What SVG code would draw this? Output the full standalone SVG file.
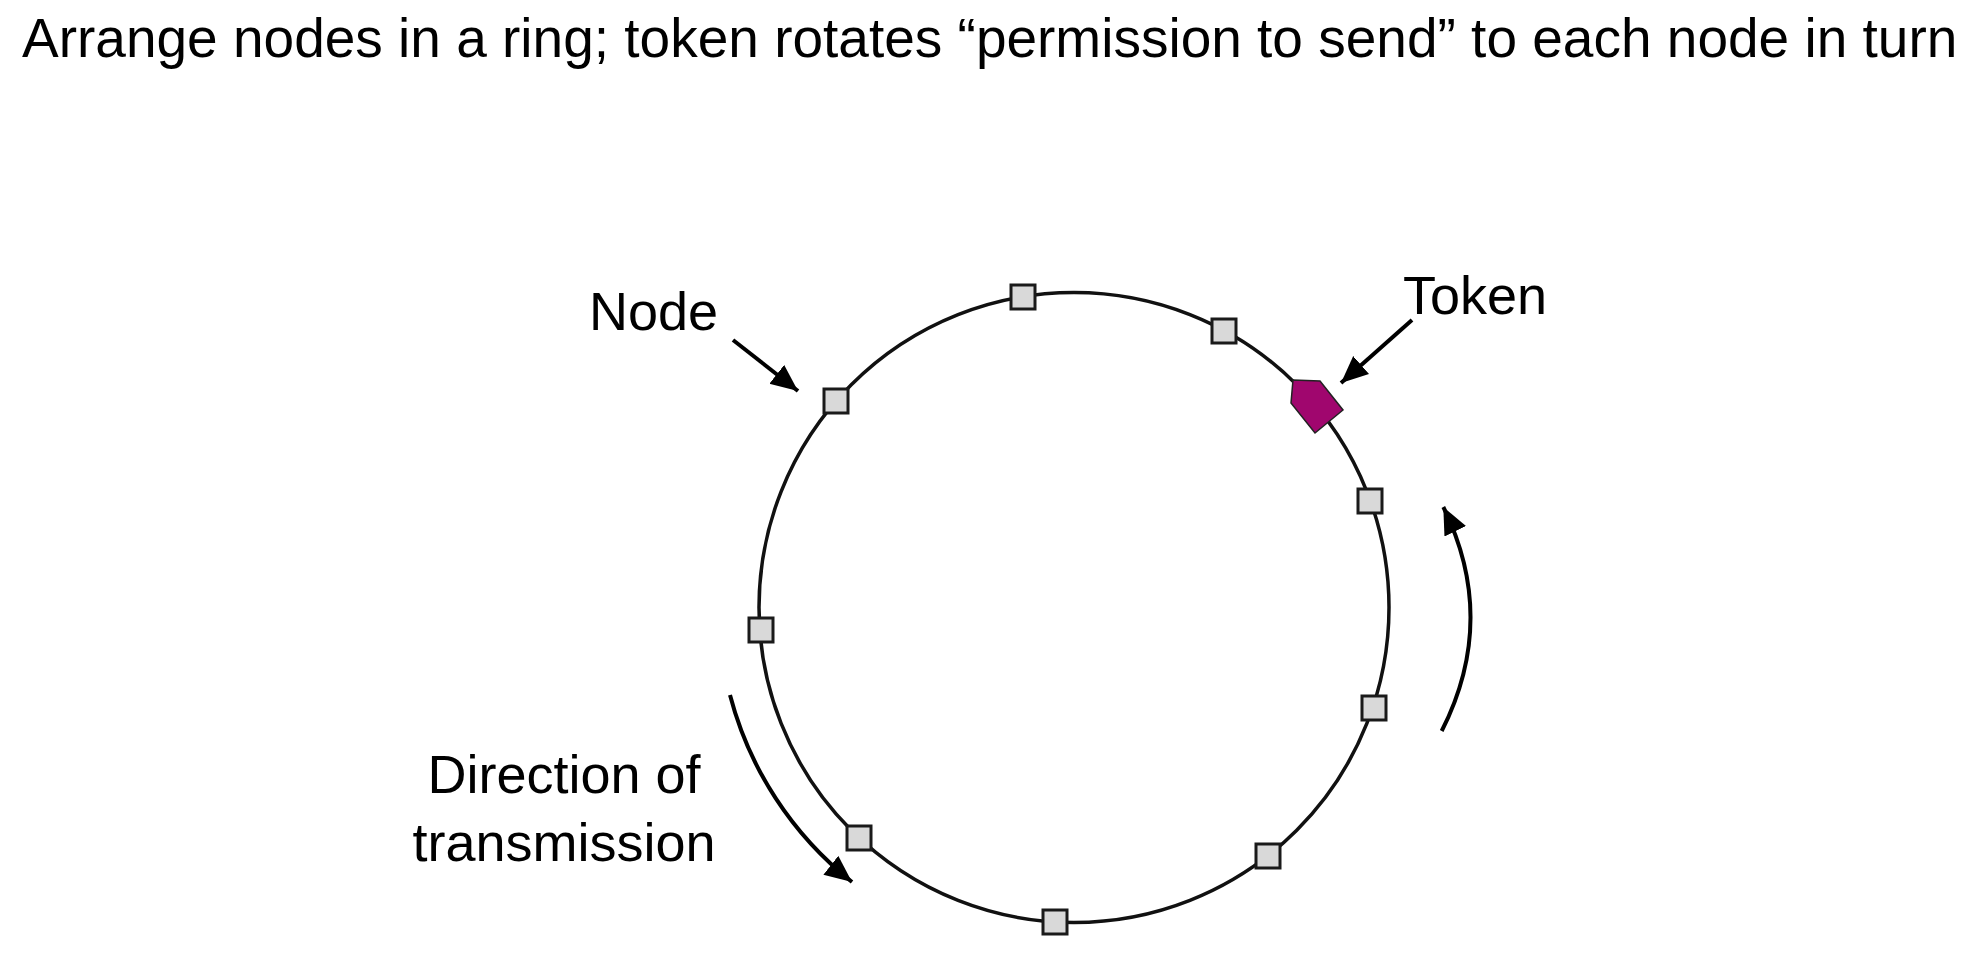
<svg xmlns="http://www.w3.org/2000/svg" width="1988" height="968" viewBox="0 0 1988 968">
<style>
text{font-family:"Liberation Sans",Arial,sans-serif;fill:#000}
.title{font-size:55px}
.lbl{font-size:54px}
.ring{fill:none;stroke:#111;stroke-width:3.5}
.sq{fill:#d9d9d9;stroke:#1a1a1a;stroke-width:3}
.tok{fill:#a0066e;stroke:#222;stroke-width:1.5}
.arr{fill:none;stroke:#000;stroke-width:4}
</style>
<defs>
<marker id="ah" markerUnits="userSpaceOnUse" markerWidth="30" markerHeight="26" refX="27" refY="12" orient="auto">
<path d="M0,0 L27,12 L0,24 z" fill="#000"/>
</marker>
</defs>
<rect width="1988" height="968" fill="#fff"/>
<text class="title" x="22" y="57">Arrange nodes in a ring; token rotates “permission to send” to each node in turn</text>
<g id="ring"><circle class="ring" cx="1074" cy="607.5" r="315"/></g>
<g id="node1"><rect class="sq" x="1011" y="285" width="24" height="24"/></g>
<g id="node2"><rect class="sq" x="1212" y="319" width="24" height="24"/></g>
<g id="node3"><rect class="sq" x="1358" y="489" width="24" height="24"/></g>
<g id="node4"><rect class="sq" x="1362" y="696" width="24" height="24"/></g>
<g id="node5"><rect class="sq" x="1256" y="844" width="24" height="24"/></g>
<g id="node6"><rect class="sq" x="1043" y="910" width="24" height="24"/></g>
<g id="node7"><rect class="sq" x="847" y="826" width="24" height="24"/></g>
<g id="node8"><rect class="sq" x="749" y="618" width="24" height="24"/></g>
<g id="node9"><rect class="sq" x="824" y="389" width="24" height="24"/></g>
<g id="token"><polygon class="tok" points="1293,380 1320,381 1343,410 1315,433 1291,403"/></g>
<g id="labels">
<text class="lbl" x="589" y="330">Node</text>
<text class="lbl" x="1403" y="314">Token</text>
<text class="lbl" x="564" y="793" text-anchor="middle">Direction of</text>
<text class="lbl" x="564" y="861" text-anchor="middle">transmission</text>
</g>
<g id="connectors">
<line class="arr" x1="733" y1="340" x2="798" y2="391" marker-end="url(#ah)"/>
<line class="arr" x1="1412" y1="320" x2="1341" y2="383" marker-end="url(#ah)"/>
<path class="arr" d="M730,695 A352,352 0 0 0 852,882" marker-end="url(#ah)"/>
<path class="arr" d="M1441.7,731 Q1498.5,619 1443.3,507" marker-end="url(#ah)"/>
</g>
</svg>
